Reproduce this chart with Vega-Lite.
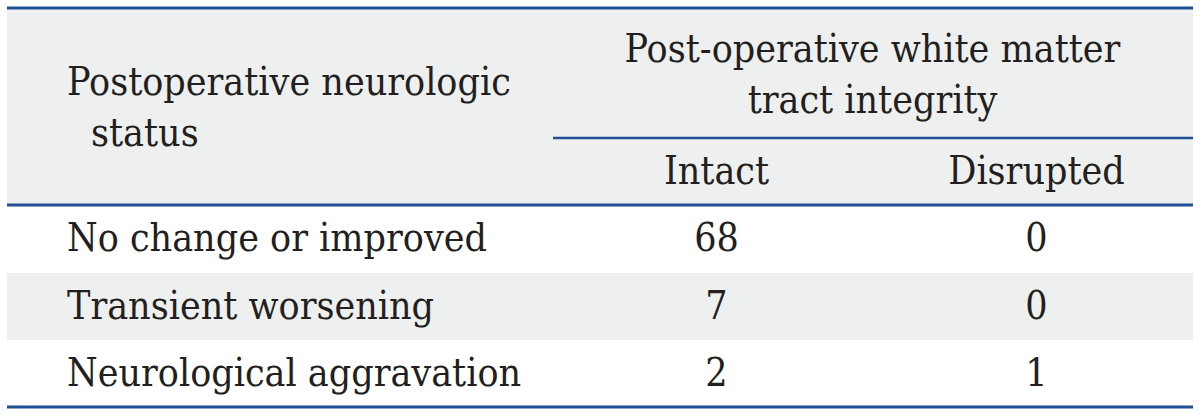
{
  "$schema": "https://vega.github.io/schema/vega-lite/v6.json",
  "width": 1200,
  "height": 416,
  "padding": 0,
  "autosize": {"type": "fit", "contains": "padding"},
  "background": "white",
  "view": {"stroke": null},
  "config": {"font": "DejaVu Serif"},
  "datasets": {
    "bands": [
      {"x": 0, "x2": 3, "y": 0, "y2": 1},
      {"x": 0, "x2": 3, "y": 2, "y2": 3}
    ],
    "rules": [
      {"x": 0, "x2": 3, "y": 0, "w": 3},
      {"x": 1, "x2": 3, "y": 0.66, "w": 2.5},
      {"x": 0, "x2": 3, "y": 1, "w": 3},
      {"x": 0, "x2": 3, "y": 4, "w": 3}
    ],
    "leftText": [
      {"text": "Postoperative neurologic", "y": 0.38},
      {"text": "status", "y": 0.64, "indent": 1},
      {"text": "No change or improved", "y": 1.5},
      {"text": "Transient worsening", "y": 2.5},
      {"text": "Neurological aggravation", "y": 3.5}
    ],
    "centerText": [
      {"text": "Post-operative white matter", "x": 1.977, "y": 0.215},
      {"text": "tract integrity", "x": 1.977, "y": 0.47},
      {"text": "Intact", "x": 1.5, "y": 0.835},
      {"text": "Disrupted", "x": 2.5, "y": 0.835},
      {"text": "68", "x": 1.5, "y": 1.5},
      {"text": "0", "x": 2.5, "y": 1.5},
      {"text": "7", "x": 1.5, "y": 2.5},
      {"text": "0", "x": 2.5, "y": 2.5},
      {"text": "2", "x": 1.5, "y": 3.5},
      {"text": "1", "x": 2.5, "y": 3.5}
    ]
  },
  "resolve": {"scale": {"x": "shared", "y": "shared"}},
  "layer": [
    {
      "data": {"name": "bands"},
      "mark": {"type": "rect", "color": "#eeefef"},
      "encoding": {
        "x": {"field": "x", "type": "quantitative", "axis": null,
              "scale": {"domain": [0, 1, 2, 3], "range": [7, 553, 880, 1193], "nice": false, "zero": false}},
        "x2": {"field": "x2"},
        "y": {"field": "y", "type": "quantitative", "axis": null,
              "scale": {"domain": [0, 1, 2, 3, 4], "range": [8, 205, 273, 340, 407], "nice": false, "zero": false}},
        "y2": {"field": "y2"}
      }
    },
    {
      "data": {"name": "rules"},
      "mark": {"type": "rule", "color": "#1f4f95"},
      "encoding": {
        "x": {"field": "x", "type": "quantitative"},
        "x2": {"field": "x2"},
        "y": {"field": "y", "type": "quantitative"},
        "strokeWidth": {"field": "w", "type": "quantitative", "scale": null, "legend": null}
      }
    },
    {
      "data": {"name": "leftText"},
      "transform": [{"filter": "datum.indent != 1"}],
      "mark": {"type": "text", "align": "left", "baseline": "middle", "dx": 60, "font": "DejaVu Serif Condensed", "fontSize": 39, "color": "#231f20"},
      "encoding": {
        "x": {"datum": 0, "type": "quantitative"},
        "y": {"field": "y", "type": "quantitative"},
        "text": {"field": "text"}
      }
    },
    {
      "data": {"name": "leftText"},
      "transform": [{"filter": "datum.indent == 1"}],
      "mark": {"type": "text", "align": "left", "baseline": "middle", "dx": 84, "font": "DejaVu Serif Condensed", "fontSize": 39, "color": "#231f20"},
      "encoding": {
        "x": {"datum": 0, "type": "quantitative"},
        "y": {"field": "y", "type": "quantitative"},
        "text": {"field": "text"}
      }
    },
    {
      "data": {"name": "centerText"},
      "mark": {"type": "text", "align": "center", "baseline": "middle", "font": "DejaVu Serif Condensed", "fontSize": 39, "color": "#231f20"},
      "encoding": {
        "x": {"field": "x", "type": "quantitative"},
        "y": {"field": "y", "type": "quantitative"},
        "text": {"field": "text"}
      }
    }
  ]
}
